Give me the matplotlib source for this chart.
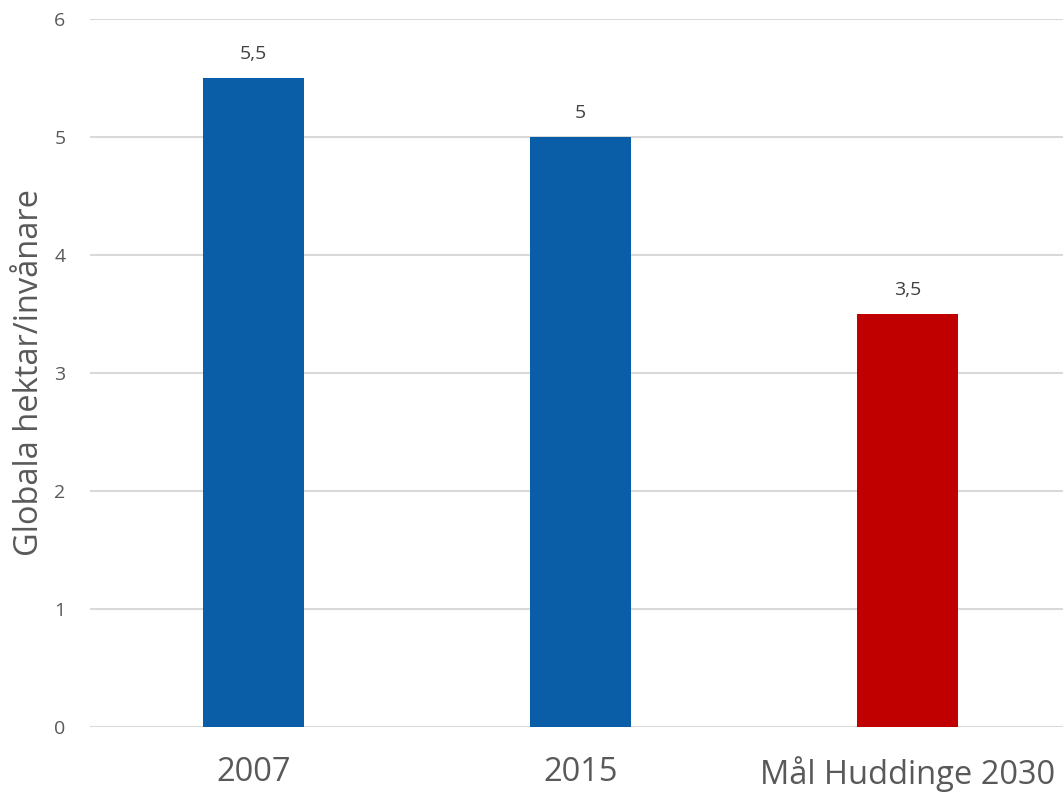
import matplotlib
matplotlib.use("Agg")
from matplotlib import pyplot as plt
import numpy as np

categories = ["2007", "2015", "Mål Huddinge 2030"]
values = [5.5, 5.0, 3.5]
value_labels = ["5,5", "5", "3,5"]
bar_colors = ["#0A5EA8", "#0A5EA8", "#C00000"]

plt.rcParams["font.family"] = ["Open Sans", "DejaVu Sans"]
grey = "#595959"

fig = plt.figure(figsize=(10.63, 7.92), dpi=100)
ax = fig.add_axes([0.0851, 0.0821, 0.922, 0.894])

x = np.arange(len(categories))
bars = ax.bar(x, values, width=0.31, color=bar_colors, zorder=3)

for b, lab in zip(bars, value_labels):
    ax.annotate(lab, (b.get_x() + b.get_width() / 2, b.get_height()),
                xytext=(0, 11), textcoords="offset points",
                ha="center", va="bottom", fontsize=14, color="#404040")

ax.set_xlim(-0.5, 2.5)
ax.set_ylim(0, 6)
ax.set_yticks(range(7))
ax.set_xticks(x)
ax.set_xticklabels(categories)
ax.grid(axis="y", color="#D9D9D9", linewidth=1.5, zorder=0)
for s in ax.spines.values():
    s.set_visible(False)
ax.tick_params(axis="y", length=0, pad=18, labelsize=14, labelcolor=grey)
ax.tick_params(axis="x", length=0, pad=21, labelsize=23.5, labelcolor=grey)
ax.set_ylabel("Globala hektar/invånare", fontsize=23.5, color=grey,
              va="center")
ax.yaxis.set_label_coords(-0.062, 0.5)

fig.savefig("out.png", dpi=100)
